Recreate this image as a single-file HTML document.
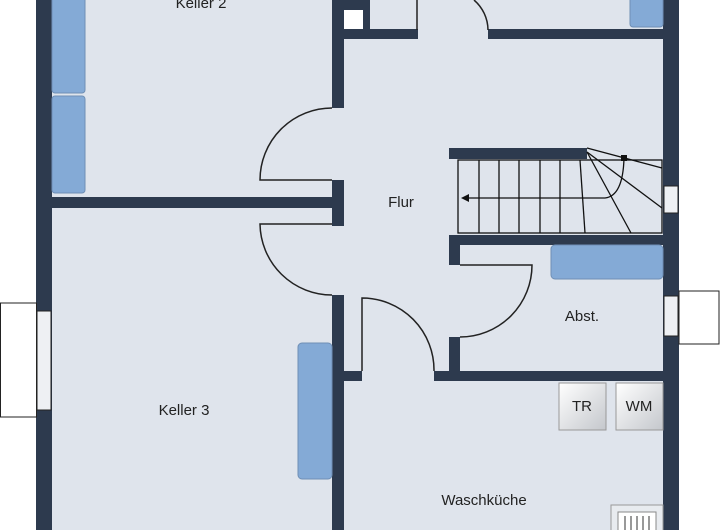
<!DOCTYPE html>
<html><head><style>body{margin:0;background:#fff}svg{display:block}text{font-family:"Liberation Sans",sans-serif;font-size:15px;fill:#222}</style></head><body>
<svg width="720" height="530" viewBox="0 0 720 530">
<rect x="36" y="0" width="643" height="530" fill="#dfe4ec"/>
<g fill="#2d3a4e">
<rect x="36" y="0" width="16" height="530"/>
<rect x="663" y="0" width="16" height="530"/>
<rect x="36" y="197" width="300" height="11"/>
<rect x="332" y="0" width="12" height="108"/>
<rect x="332" y="180" width="12" height="46"/>
<rect x="332" y="295" width="12" height="235"/>
<rect x="332" y="0" width="38" height="10"/>
<rect x="363" y="0" width="7" height="39"/>
<rect x="332" y="29" width="86" height="10"/>
<rect x="488" y="29" width="175" height="10"/>
<rect x="449" y="148" width="138" height="11"/>
<rect x="449" y="235" width="214" height="10"/>
<rect x="449" y="235" width="11" height="30"/>
<rect x="449" y="337" width="11" height="44"/>
<rect x="434" y="371" width="229" height="10"/>
<rect x="332" y="371" width="30" height="10"/>
</g>
<rect x="344" y="10" width="19" height="19" fill="#fff"/>
<line x1="417" y1="0" x2="417" y2="30" stroke="#222" stroke-width="1.5"/>
<path d="M474 0 A40 40 0 0 1 488 30" fill="none" stroke="#222" stroke-width="1.5"/>
<rect x="0.5" y="303" width="36" height="114" fill="#fff" stroke="#222"/>
<rect x="37" y="311" width="14" height="99" fill="#eef0f3" stroke="#222"/>
<rect x="679" y="291" width="40" height="53" fill="#fff" stroke="#222"/>
<rect x="664" y="296" width="14" height="40" fill="#eef0f3" stroke="#222"/>
<rect x="664" y="186" width="14" height="27" fill="#eef0f3" stroke="#222"/>
<g fill="#84aad6" stroke="#6f8fb5">
<rect x="52" y="-5" width="33" height="98" rx="3"/>
<rect x="52" y="96" width="33" height="97" rx="3"/>
<rect x="298" y="343" width="34" height="136" rx="4"/>
<rect x="630" y="-5" width="33" height="32" rx="3"/>
<rect x="551" y="245" width="112" height="34" rx="4"/>
</g>
<g fill="none" stroke="#222" stroke-width="1.5">
<path d="M332 108 A72 72 0 0 0 260 180 H332"/>
<path d="M332 224 H260 A72 72 0 0 0 332 295"/>
<path d="M460 265 H532 A72 72 0 0 1 460 337"/>
<path d="M362 371 V298 A72 72 0 0 1 434 371"/>
</g>
<g fill="none" stroke="#111" stroke-width="1.3">
<rect x="458" y="160" width="204" height="73"/>
<line x1="479" y1="160" x2="479" y2="233"/><line x1="499" y1="160" x2="499" y2="233"/>
<line x1="519" y1="160" x2="519" y2="233"/><line x1="540" y1="160" x2="540" y2="233"/>
<line x1="560" y1="160" x2="560" y2="233"/><line x1="580" y1="160" x2="585" y2="233"/>
<line x1="587" y1="152" x2="631" y2="233"/><line x1="587" y1="152" x2="662" y2="208"/>
<line x1="587" y1="148" x2="662" y2="168"/>
<path d="M468 198 H605 Q623 196 624 158"/>
</g>
<rect x="621" y="155" width="6" height="6" fill="#111"/>
<polygon points="461,198 469,194 469,202" fill="#111"/>
<defs><linearGradient id="g" x1="0" y1="0" x2="1" y2="1"><stop offset="0" stop-color="#fff"/><stop offset="1" stop-color="#c4c7cc"/></linearGradient></defs>
<rect x="559" y="383" width="47" height="47" fill="url(#g)" stroke="#999"/>
<rect x="616" y="383" width="47" height="47" fill="url(#g)" stroke="#999"/>
<rect x="611" y="505" width="52" height="30" fill="#e8ebef" stroke="#999"/>
<rect x="618" y="512" width="38" height="20" fill="#fff" stroke="#888"/>
<g stroke="#333"><line x1="625" y1="516" x2="625" y2="530"/><line x1="631" y1="516" x2="631" y2="530"/><line x1="637" y1="516" x2="637" y2="530"/><line x1="643" y1="516" x2="643" y2="530"/><line x1="649" y1="516" x2="649" y2="530"/></g>
<text x="201" y="8" text-anchor="middle">Keller 2</text>
<text x="401" y="207" text-anchor="middle">Flur</text>
<text x="582" y="321" text-anchor="middle">Abst.</text>
<text x="184" y="415" text-anchor="middle">Keller 3</text>
<text x="484" y="505" text-anchor="middle">Waschküche</text>
<text x="582" y="411" text-anchor="middle">TR</text>
<text x="639" y="411" text-anchor="middle">WM</text>
</svg>
</body></html>
